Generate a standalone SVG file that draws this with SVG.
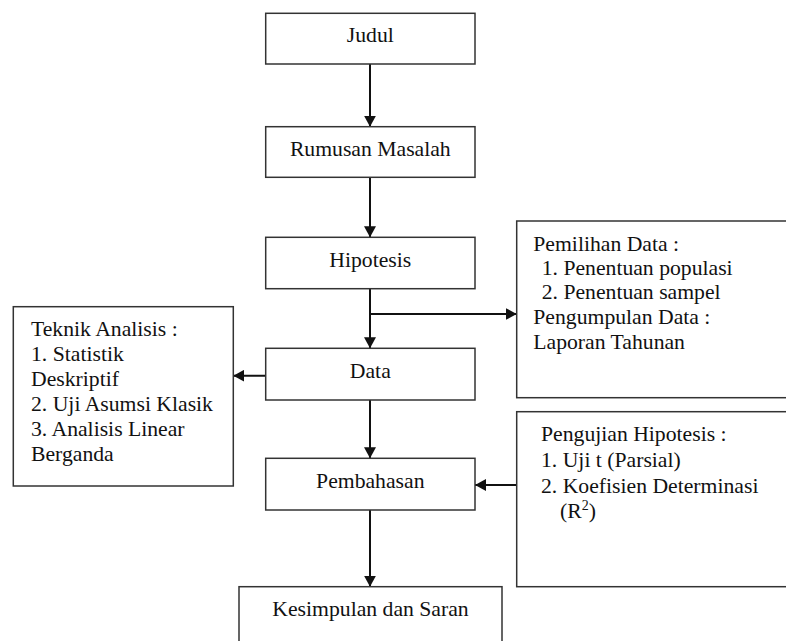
<svg xmlns="http://www.w3.org/2000/svg" width="786" height="641" viewBox="0 0 786 641">
<style>
.box{fill:#fff;stroke:#333;stroke-width:1.5}
.t{font-family:"Liberation Serif","Times New Roman",serif;font-size:21.7px;fill:#111}
.c{text-anchor:middle}
.ln{stroke:#111;stroke-width:2;fill:none;marker-end:url(#ah)}
</style>
<defs>
<marker id="ah" markerUnits="userSpaceOnUse" markerWidth="12" markerHeight="12" refX="11" refY="6" orient="auto">
<path d="M0,0 L11,6 L0,12 z" fill="#111"/>
</marker>
</defs>
<rect width="786" height="641" fill="#fff"/>
<g id="connectors">
<line class="ln" x1="370" y1="64" x2="370" y2="126.7"/>
<line class="ln" x1="370" y1="177.3" x2="370" y2="237.3"/>
<line class="ln" x1="370" y1="288.7" x2="370" y2="348.3"/>
<line class="ln" x1="370" y1="314" x2="516.7" y2="314"/>
<line class="ln" x1="265.7" y1="375.7" x2="233.3" y2="375.7"/>
<line class="ln" x1="370" y1="400" x2="370" y2="458.3"/>
<line class="ln" x1="516.7" y1="485" x2="475" y2="485"/>
<line class="ln" x1="370" y1="510" x2="370" y2="586.7"/>
</g>
<g id="judul">
<rect class="box" x="265.7" y="13.3" width="209.3" height="50.7"/>
<text class="t c" x="370.3" y="42.3">Judul</text>
</g>
<g id="rumusan">
<rect class="box" x="265.7" y="126.7" width="209.3" height="50.6"/>
<text class="t c" x="370.3" y="156">Rumusan Masalah</text>
</g>
<g id="hipotesis">
<rect class="box" x="265.7" y="237.3" width="209.3" height="51.4"/>
<text class="t c" x="370.3" y="266.7">Hipotesis</text>
</g>
<g id="data">
<rect class="box" x="265.7" y="348.3" width="209.3" height="51.7"/>
<text class="t c" x="370.3" y="377.7">Data</text>
</g>
<g id="pembahasan">
<rect class="box" x="265.7" y="458.3" width="209.3" height="51.7"/>
<text class="t c" x="370.3" y="487.7">Pembahasan</text>
</g>
<g id="kesimpulan">
<rect class="box" x="239" y="586.7" width="263" height="80"/>
<text class="t c" x="370.5" y="616">Kesimpulan dan Saran</text>
</g>
<g id="teknik">
<rect class="box" x="13.3" y="306.7" width="220" height="179.3"/>
<text class="t" x="31" y="335.5">Teknik Analisis :</text>
<text class="t" x="31" y="360.5">1. Statistik</text>
<text class="t" x="31" y="385.5">Deskriptif</text>
<text class="t" x="31" y="410.5">2. Uji Asumsi Klasik</text>
<text class="t" x="31" y="435.5">3. Analisis Linear</text>
<text class="t" x="31" y="460.5">Berganda</text>
</g>
<g id="pemilihan">
<rect class="box" x="516.7" y="221" width="300" height="176.7"/>
<text class="t" x="533.3" y="250.7">Pemilihan Data :</text>
<text class="t" x="541.7" y="274.5">1. Penentuan populasi</text>
<text class="t" x="541.7" y="299.3">2. Penentuan sampel</text>
<text class="t" x="533.3" y="324">Pengumpulan Data :</text>
<text class="t" x="533.3" y="349.3">Laporan Tahunan</text>
</g>
<g id="pengujian">
<rect class="box" x="516.7" y="411.7" width="300" height="175"/>
<text class="t" x="541" y="441">Pengujian Hipotesis :</text>
<text class="t" x="541" y="467">1. Uji t (Parsial)</text>
<text class="t" x="541" y="493">2. Koefisien Determinasi</text>
<text class="t" x="560" y="518">(R<tspan font-size="14" dy="-8">2</tspan><tspan dy="8">)</tspan></text>
</g>
</svg>
